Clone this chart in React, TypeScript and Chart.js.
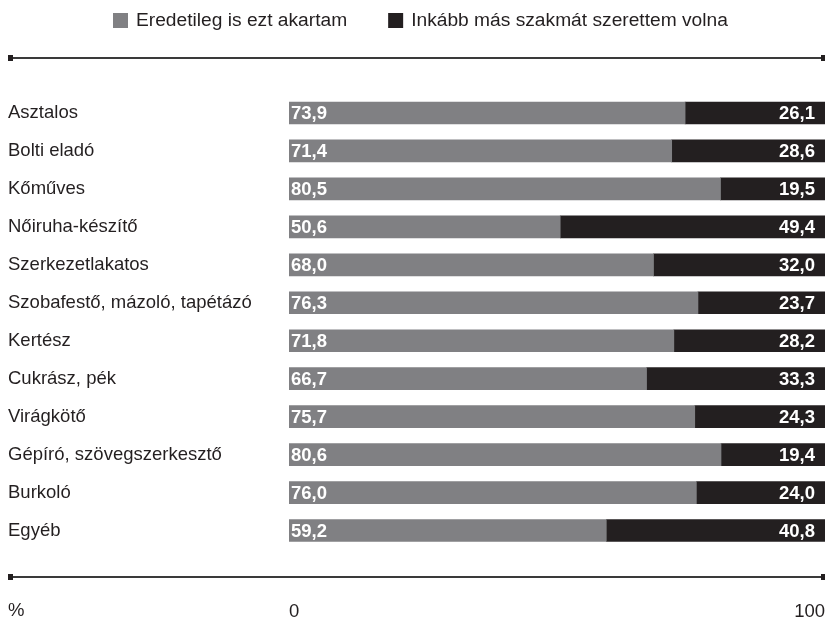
import { useEffect, useRef } from "react";
import { Chart, registerables } from "chart.js";

Chart.register(...registerables);

const categories = [
  "Asztalos",
  "Bolti eladó",
  "Kőműves",
  "Nőiruha-készítő",
  "Szerkezetlakatos",
  "Szobafestő, mázoló, tapétázó",
  "Kertész",
  "Cukrász, pék",
  "Virágkötő",
  "Gépíró, szövegszerkesztő",
  "Burkoló",
  "Egyéb",
];
const originalChoice = [73.9, 71.4, 80.5, 50.6, 68.0, 76.3, 71.8, 66.7, 75.7, 80.6, 76.0, 59.2];
const otherChoice = [26.1, 28.6, 19.5, 49.4, 32.0, 23.7, 28.2, 33.3, 24.3, 19.4, 24.0, 40.8];
const seriesNames = ["Eredetileg is ezt akartam", "Inkább más szakmát szerettem volna"];
const xTickValues = [0, 100];
const unitLabel = "%";

const GRAY = "#808083";
const DARK = "#231f20";
const FONT = '"Liberation Sans", Arial, sans-serif';
const fmt = (v: number) => v.toFixed(1).replace(".", ",");

const decorPlugin = {
  id: "decor",
  afterDraw(chart: any) {
    const ctx = chart.ctx as CanvasRenderingContext2D;
    const W = chart.width;
    ctx.save();
    const rule = (y: number) => {
      ctx.strokeStyle = "#3a3a3a";
      ctx.lineWidth = 2;
      ctx.beginPath();
      ctx.moveTo(8, y);
      ctx.lineTo(W, y);
      ctx.stroke();
      ctx.fillStyle = DARK;
      ctx.fillRect(8, y - 3, 5, 6);
      ctx.fillRect(W - 4, y - 3, 4, 6);
    };
    rule(58);
    rule(577);

    // legend
    ctx.font = `19.2px ${FONT}`;
    ctx.textBaseline = "middle";
    ctx.textAlign = "left";
    let x = 113;
    chart.data.datasets.forEach((ds: any) => {
      ctx.fillStyle = ds.backgroundColor;
      ctx.fillRect(x, 13, 15, 15);
      ctx.fillStyle = DARK;
      ctx.fillText(ds.label, x + 23, 21);
      x += 23 + ctx.measureText(ds.label).width + 41;
    });

    // unit label
    ctx.font = `18.5px ${FONT}`;
    ctx.fillStyle = DARK;
    ctx.fillText(unitLabel, 8, 611);

    // value labels
    ctx.font = `bold 18.5px ${FONT}`;
    ctx.fillStyle = "#ffffff";
    chart.data.datasets.forEach((ds: any, di: number) => {
      const meta = chart.getDatasetMeta(di);
      meta.data.forEach((bar: any, i: number) => {
        const text = fmt(ds.data[i]);
        if (di === 0) {
          ctx.textAlign = "left";
          ctx.fillText(text, bar.base + 2, bar.y + 1);
        } else {
          ctx.textAlign = "right";
          ctx.fillText(text, bar.x - 10, bar.y + 1);
        }
      });
    });
    ctx.restore();
  },
};

export default function App() {
  const ref = useRef<HTMLCanvasElement | null>(null);
  useEffect(() => {
    if (!ref.current) return;
    Chart.defaults.font.family = FONT;
    const chart = new Chart(ref.current, {
      type: "bar",
      data: {
        labels: categories,
        datasets: [
          { label: seriesNames[0], data: originalChoice, backgroundColor: GRAY, barThickness: 22 },
          { label: seriesNames[1], data: otherChoice, backgroundColor: DARK, barThickness: 22 },
        ],
      },
      options: {
        indexAxis: "y",
        responsive: false,
        animation: false,
        events: [],
        layout: { padding: { left: 8, top: 94, right: 0, bottom: 0 } },
        plugins: { legend: { display: false }, tooltip: { enabled: false } },
        scales: {
          x: {
            stacked: true,
            min: 0,
            max: 100,
            afterBuildTicks: (scale: any) => {
              scale.ticks = xTickValues.map((v) => ({ value: v }));
            },
            afterFit: (scale: any) => {
              scale.height = 72.5;
              scale.paddingLeft = 0;
              scale.paddingRight = 0;
            },
            grid: { display: false, drawTicks: false, tickLength: 0 },
            border: { display: false },
            ticks: {
              align: "inner",
              padding: 51,
              maxRotation: 0,
              color: DARK,
              font: { size: 18.5, family: FONT },
              callback: (v: any) => String(v),
            },
          },
          y: {
            stacked: true,
            afterFit: (scale: any) => {
              scale.width = 281;
              scale.paddingTop = 0;
              scale.paddingBottom = 0;
            },
            grid: { display: false, drawTicks: false, tickLength: 0 },
            border: { display: false },
            ticks: {
              crossAlign: "far",
              padding: 0,
              color: DARK,
              font: { size: 18.5, family: FONT },
            },
          },
        },
      },
      plugins: [decorPlugin],
    });
    return () => chart.destroy();
  }, []);
  return (
    <div style={{ position: "absolute", left: 0, top: 0, width: 825, height: 622 }}>
      <canvas ref={ref} width={825} height={622} />
    </div>
  );
}
